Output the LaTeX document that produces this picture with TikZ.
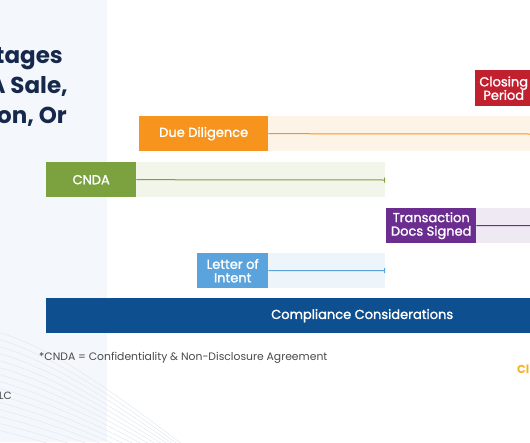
\documentclass[tikz,border=0pt]{standalone}
\usepackage{fontspec}
\setmainfont{Poppins}
\newfontfamily\labelfont[FakeBold=1.5]{Poppins}
\usetikzlibrary{arrows.meta,positioning}

\definecolor{panelbg}{HTML}{F4F7FB}
\definecolor{wavecol}{HTML}{E3EAF2}
\definecolor{titlenavy}{HTML}{16294C}
\definecolor{ddorange}{HTML}{F7941D}
\definecolor{ddband}{HTML}{FDF3E6}
\definecolor{cndagreen}{HTML}{7BA23F}
\definecolor{cndaband}{HTML}{F1F5EA}
\definecolor{tdspurple}{HTML}{6B2D90}
\definecolor{tdsband}{HTML}{EFE9F4}
\definecolor{loiblue}{HTML}{5AA3DC}
\definecolor{loiband}{HTML}{EDF4FA}
\definecolor{closered}{HTML}{C1202F}
\definecolor{compblue}{HTML}{0D4F8F}
\definecolor{notegray}{HTML}{4A4A4A}
\definecolor{ctayellow}{HTML}{F6B324}

\tikzset{
  stagebox/.style={anchor=north west, inner sep=0pt, minimum height=35pt,
    align=center, text=white, font=\labelfont\fontsize{13}{13.5}\selectfont},
  titleline/.style={anchor=base east, inner sep=0pt, text=titlenavy,
    font=\bfseries\fontsize{23}{23}\selectfont},
  stageline/.style={line width=1pt},
  wave/.style={wavecol, line width=0.5pt}
}

\begin{document}
\begin{tikzpicture}[x=1pt,y=-1pt]
\useasboundingbox (0,0) rectangle (530,442);
\fill[white] (0,0) rectangle (530,442);

% Linker Panel mit Wellenlinien
\fill[panelbg] (0,0) rectangle (107,442);
\foreach \i in {0,...,14} {
  \draw[wave] (-10,330+\i*7) .. controls (50,345+\i*7) and (110,390+\i*5) .. (190,450+\i*3);
}

% Titel (links abgeschnitten wie im Original)
\node[titleline] (title1) at (63,63) {tages};
\node[titleline] (title2) at (68,93) {A Sale,};
\node[titleline] (title3) at (67,123) {on, Or};

% Closing Period
\node[stagebox, fill=closered, minimum width=57pt, minimum height=36pt] (closing) at (475,70) {Closing\\Period};

% Due Diligence
\fill[ddband] (268,116) rectangle (530,151);
\node[stagebox, fill=ddorange, minimum width=129pt] (dd) at (139,116) {Due Diligence};
\coordinate (ddend) at (530,134);
\draw[stageline, ddorange] (dd.east) -- (ddend);

% CNDA
\fill[cndaband] (136,162) rectangle (385,197);
\node[stagebox, fill=cndagreen, minimum width=90pt] (cnda) at (46,162) {CNDA};
\coordinate (cndaend) at (385,180);
\draw[stageline, cndagreen, -{Bar[width=5pt,line width=1pt]}] (cnda.east) -- (cndaend);

% Transaction Docs Signed
\fill[tdsband] (476,208) rectangle (530,243);
\node[stagebox, fill=tdspurple, minimum width=90pt] (tds) at (386,208) {Transaction\\Docs Signed};
\coordinate (tdsend) at (530,225.5);
\draw[stageline, tdspurple] (tds.east) -- (tdsend);

% Letter of Intent
\fill[loiband] (268,253) rectangle (385,288);
\node[stagebox, fill=loiblue, minimum width=71pt] (loi) at (197,253) {Letter of\\Intent};
\coordinate (loiend) at (385,270.5);
\draw[stageline, loiblue, -{Bar[width=5pt,line width=1pt]}] (loi.east) -- (loiend);

% Compliance
\node[stagebox, fill=compblue, minimum width=632pt] (comp) at (46,298) {Compliance Considerations};

% Fussnote und Reste
\node[anchor=base west, inner sep=0pt, text=notegray, font=\fontsize{10.8}{10.8}\selectfont] (note) at (39,360) {*CNDA = Confidentiality \& Non-Disclosure Agreement};
\node[anchor=base west, inner sep=0pt, text=notegray, font=\fontsize{10.5}{10.5}\selectfont] (llc) at (-1,399) {LC};
\node[anchor=base west, inner sep=0pt, text=ctayellow, font=\bfseries\fontsize{11.5}{11.5}\selectfont] (cta) at (517,373) {Cl};
\end{tikzpicture}
\end{document}
